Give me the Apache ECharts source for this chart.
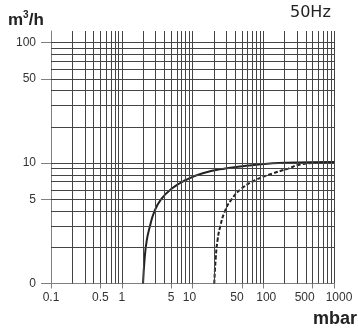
<!DOCTYPE html>
<html>
<head>
<meta charset="utf-8">
<script src="https://cdn.jsdelivr.net/npm/echarts@6/dist/echarts.min.js"></script>
<style>
  html, body { margin: 0; padding: 0; background: #fff; }
  #chart { width: 358px; height: 330px; }
</style>
</head>
<body>
<div id="chart"></div>
<script>
// axis ticks / labels
const xTicks = [0.1, 0.5, 1, 5, 10, 50, 100, 500, 1000];
const xTickLabels = ["0.1", "0.5", "1", "5", "10", "50", "100", "500", "1000"];
const yTicks = [1, 5, 10, 50, 100];
const yTickLabels = ["0", "5", "10", "50", "100"];

// grid lines (log decades, 2..9)
const xGrid = [0.2, 0.3, 0.4, 0.5, 0.6, 0.7, 0.8, 0.9,
  1, 2, 3, 4, 5, 6, 7, 8, 9,
  10, 20, 30, 40, 50, 60, 70, 80, 90,
  100, 200, 300, 400, 500, 600, 700, 800, 900, 1000];
const yGrid = [2, 3, 4, 5, 6, 7, 8, 9,
  10, 20, 30, 40, 50, 60, 70, 80, 90, 100];

// pumping speed curves [mbar, m3/h]
const solidCurve = [[2.0, 1.0], [2.11, 1.63], [2.26, 2.29], [2.49, 2.96], [2.88, 3.94],
  [3.61, 5.02], [5.1, 6.15], [7.9, 7.2], [13.6, 8.2], [29, 9.02], [69, 9.61], [204, 10.08], [1000, 10.22]];
const dashedCurve = [[20.3, 1.0], [21.3, 1.63], [22.6, 2.29], [24.6, 2.96], [28.5, 3.94],
  [35.8, 5.02], [49.5, 6.15], [76.9, 7.2], [136, 8.2], [225, 9.0], [332, 9.75], [630, 10.08], [1000, 10.2]];

// label nudges (px) as in the original drawing
const xLabelShift = [0, 0, 0, 0, -3, -5, 3, -8, 5];

const gridColor = "#444";
const axisColor = "#808080";

function tickIndex(list, v) {
  for (let i = 0; i < list.length; i++) {
    if (Math.abs(Math.log10(v) - Math.log10(list[i])) < 1e-6) return i;
  }
  return -1;
}

const xRich = {};
xLabelShift.forEach((s, i) => {
  xRich["s" + i] = {
    fontSize: 12,
    fontFamily: "Liberation Sans",
    color: "#333",
    padding: s < 0 ? [0, -2 * s, 0, 0] : [0, 0, 0, 2 * s],
  };
});

const chart = echarts.init(document.getElementById("chart"));

chart.setOption({
  animation: false,
  grid: { left: 51, right: 24, top: 31, bottom: 46.5 },
  xAxis: {
    type: "log",
    logBase: 10,
    min: 0.1,
    max: 1000,
    axisLine: { show: true, lineStyle: { color: axisColor, width: 1 } },
    axisTick: { show: true, length: 5, customValues: xTicks, lineStyle: { color: axisColor } },
    axisLabel: {
      customValues: xTicks,
      margin: 8,
      rich: xRich,
      formatter: (v) => {
        const i = tickIndex(xTicks, v);
        return i < 0 ? "" : "{s" + i + "|" + xTickLabels[i] + "}";
      },
    },
    splitLine: { show: false },
  },
  yAxis: {
    type: "log",
    logBase: 10,
    min: 1,
    max: 125,
    axisLine: { show: true, lineStyle: { color: axisColor, width: 1 } },
    axisTick: { show: true, length: 10, customValues: yTicks, lineStyle: { color: axisColor } },
    axisLabel: {
      customValues: yTicks,
      margin: 15,
      fontSize: 12,
      fontFamily: "Liberation Sans",
      color: "#333",
      formatter: (v) => {
        const i = tickIndex(yTicks, v);
        return i < 0 ? "" : yTickLabels[i];
      },
    },
    splitLine: { show: false },
  },
  graphic: [
    {
      type: "text", left: 8, top: 10,
      style: {
        text: "m{sup|3}/h",
        font: "bold 17px 'Liberation Sans'",
        fill: "#222",
        rich: {
          sup: { font: "bold 10px 'Liberation Sans'", fill: "#222", verticalAlign: "top", padding: [0, 0, 10, 0] },
        },
      },
    },
    {
      type: "text", left: 290, top: 5,
      style: { text: "50Hz", font: "16px 'DejaVu Sans'", fill: "#222" },
    },
    {
      type: "text", left: 313, top: 310,
      style: { text: "mbar", font: "bold 18px 'Liberation Sans'", fill: "#222" },
    },
  ],
  series: [
    {
      // grid lines
      type: "line",
      data: [],
      z: 1,
      silent: true,
      markLine: {
        silent: true,
        symbol: ["none", "none"],
        label: { show: false },
        lineStyle: { color: gridColor, width: 1, type: "solid" },
        data: xGrid.map((v) => ({ xAxis: v })).concat(yGrid.map((v) => ({ yAxis: v }))),
      },
    },
    {
      type: "line",
      data: solidCurve,
      z: 3,
      smooth: 0.5,
      showSymbol: false,
      lineStyle: { color: "#222", width: 2 },
    },
    {
      type: "line",
      data: dashedCurve,
      z: 3,
      smooth: 0.5,
      showSymbol: false,
      lineStyle: { color: "#222", width: 2, type: [4, 2] },
    },
  ],
});
</script>
</body>
</html>
